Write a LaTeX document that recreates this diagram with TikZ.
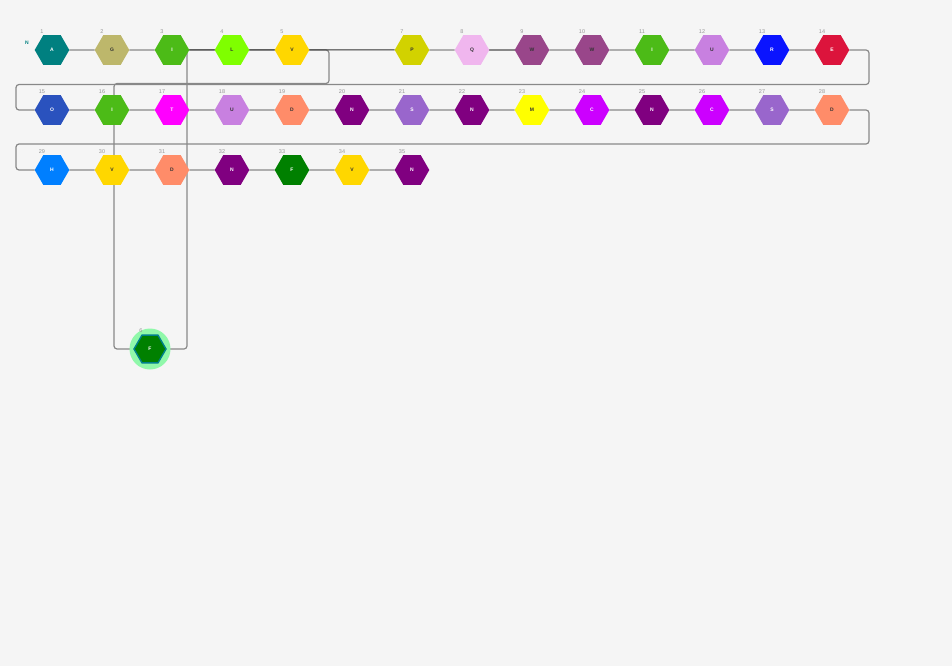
\documentclass[tikz,border=0pt]{standalone}
\usepackage{fontspec}
\setmainfont{Liberation Sans}
\usetikzlibrary{shapes.geometric,backgrounds}
\definecolor{bg}{RGB}{245,245,245}
\definecolor{edgegray}{RGB}{136,136,136}
\definecolor{edgedark}{RGB}{51,51,51}
\definecolor{numgray}{RGB}{150,150,150}
\definecolor{txtd}{RGB}{51,51,51}
\definecolor{cA}{RGB}{0,128,128}
\definecolor{cG}{RGB}{189,183,107}
\definecolor{cI}{RGB}{76,187,23}
\definecolor{cL}{RGB}{127,255,0}
\definecolor{cV}{RGB}{255,215,0}
\definecolor{cP}{RGB}{210,210,0}
\definecolor{cQ}{RGB}{240,182,238}
\definecolor{cW}{RGB}{153,70,138}
\definecolor{cU}{RGB}{200,128,224}
\definecolor{cR}{RGB}{10,20,255}
\definecolor{cE}{RGB}{220,20,60}
\definecolor{cO}{RGB}{42,82,190}
\definecolor{cT}{RGB}{255,0,255}
\definecolor{cD}{RGB}{255,140,105}
\definecolor{cN}{RGB}{128,0,128}
\definecolor{cS}{RGB}{153,102,204}
\definecolor{cM}{RGB}{255,255,0}
\definecolor{cC}{RGB}{204,0,255}
\definecolor{cH}{RGB}{0,127,255}
\definecolor{cF}{RGB}{0,128,0}
\definecolor{halo}{RGB}{144,248,170}
\definecolor{ring}{RGB}{0,128,140}
\tikzset{
  hexa/.style={regular polygon, regular polygon sides=6, minimum size=34.6pt,
    inner sep=0pt, outer sep=0pt, draw=none, font=\fontsize{5}{6}\selectfont\bfseries},
  numlbl/.style={font=\fontsize{5.5}{6}\selectfont, text=numgray, inner sep=0pt},
  edge/.style={draw=edgegray, line width=1.2pt},
  darkedge/.style={draw=edgedark, line width=1pt},
  wrap/.style={edge, rounded corners=3pt},
}
\begin{document}
\begin{tikzpicture}[x=1pt,y=-1pt]
\useasboundingbox (0,0) rectangle (952,666);
% nodes
\node[circle, fill=halo, minimum size=41pt, inner sep=0pt] (h6) at (150,349) {};
\node[hexa, fill=cF, draw=ring, line width=1.4pt, minimum size=32pt, text=white] (n6) at (150,349) {F};
\node[numlbl] (l6) at (141,330.5) {6};
\foreach \i/\x/\y/\lab/\col/\txt in {
 1/52/50/A/cA/white, 2/112/50/G/cG/txtd, 3/172/50/I/cI/white, 4/232/50/L/cL/txtd,
 5/292/50/V/cV/txtd, 7/412/50/P/cP/txtd, 8/472/50/Q/cQ/txtd, 9/532/50/W/cW/txtd,
 10/592/50/W/cW/txtd, 11/652/50/I/cI/white, 12/712/50/U/cU/txtd, 13/772/50/R/cR/white,
 14/832/50/E/cE/white,
 15/52/110/O/cO/white, 16/112/110/I/cI/white, 17/172/110/T/cT/white, 18/232/110/U/cU/txtd,
 19/292/110/D/cD/txtd, 20/352/110/N/cN/white, 21/412/110/S/cS/white, 22/472/110/N/cN/white,
 23/532/110/M/cM/txtd, 24/592/110/C/cC/white, 25/652/110/N/cN/white, 26/712/110/C/cC/white,
 27/772/110/S/cS/white, 28/832/110/D/cD/txtd,
 29/52/170/H/cH/white, 30/112/170/V/cV/txtd, 31/172/170/D/cD/txtd, 32/232/170/N/cN/white,
 33/292/170/F/cF/white, 34/352/170/V/cV/txtd, 35/412/170/N/cN/white}
{
  \node[hexa, fill=\col, text=\txt] (n\i) at (\x,\y) {\lab};
  \node[numlbl] (l\i) at (\x-10,\y-18.5) {\i};
}
\node[font=\fontsize{5}{6}\selectfont\bfseries, text=cA, inner sep=0pt] (nterm) at (27,43) {N};
\coordinate (j67) at (187,50);
% connectors
\begin{scope}[on background layer]
\fill[bg] (0,0) rectangle (952,666);
\foreach \a/\b in {1/2,2/3,3/4,4/5,7/8,8/9,9/10,10/11,11/12,12/13,13/14,
  15/16,16/17,17/18,18/19,19/20,20/21,21/22,22/23,23/24,24/25,25/26,26/27,27/28,
  29/30,30/31,31/32,32/33,33/34,34/35}
  \draw[edge] (n\a) -- (n\b);
\draw[wrap] (n5.east) -- (329,50) -- (329,83.5) -- (114,83.5) -- (114,349) -- (n6.west);
\draw[wrap] (n14.east) -- (869,50) -- (869,84.5) -- (16,84.5) -- (16,110) -- (n15.west);
\draw[wrap] (n28.east) -- (869,110) -- (869,144) -- (16,144) -- (16,170) -- (n29.west);
\draw[wrap] (n6.east) -- (187,349) -- (j67);
\draw[darkedge] (j67) -- (n7.west);
\end{scope}
\end{tikzpicture}
\end{document}
